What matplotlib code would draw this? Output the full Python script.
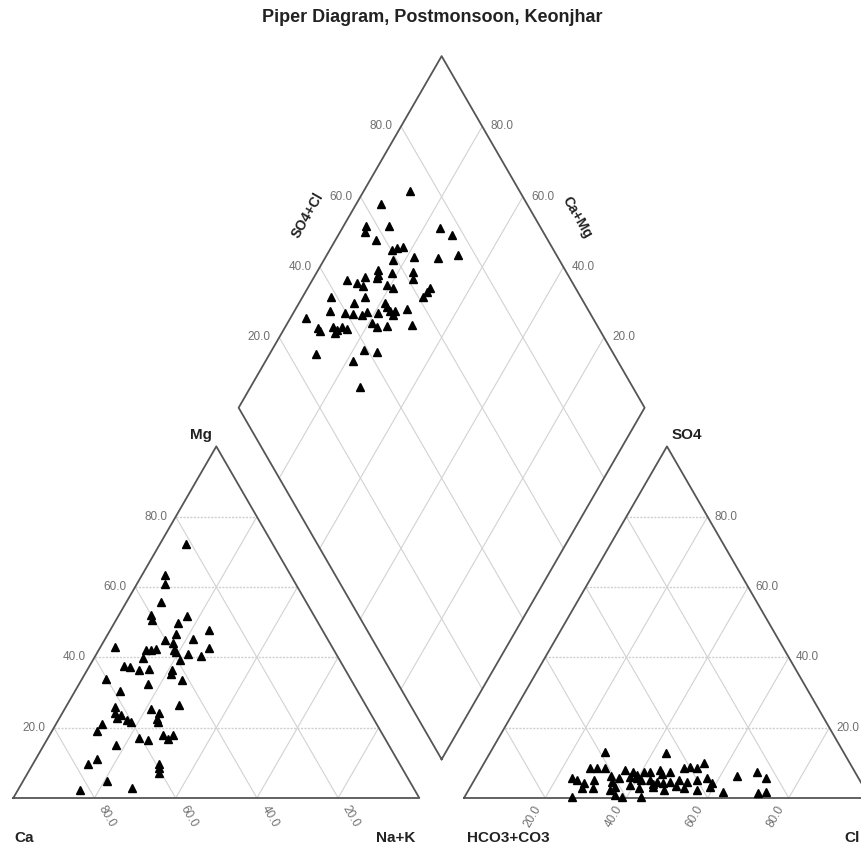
import numpy as np
import matplotlib.pyplot as plt

plt.rcParams['font.family'] = ['Liberation Sans', 'DejaVu Sans']

title = "Piper Diagram, Postmonsoon, Keonjhar"
ticks = [20, 40, 60, 80]

# cations (%) - left triangle
mg = [72.3, 63.3, 60.9, 55.7, 50.7, 52.0, 51.9, 49.7, 47.9, 46.7, 45.1, 45.0, 44.1, 42.9,
      42.8, 42.2, 42.0, 42.5, 42.2, 41.5, 41.0, 40.5, 39.3, 39.9, 37.5, 37.2, 36.3, 36.8,
      36.3, 35.2, 33.8, 33.7, 32.3, 30.4, 26.4, 25.9, 24.1, 22.7, 23.5, 25.2, 24.2, 22.6,
      21.6, 22.1, 21.6, 21.0, 19.1, 17.1, 16.5, 17.9, 16.7, 17.9, 15.0, 11.0, 9.8, 9.8,
      8.4, 7.2, 4.9, 2.8, 2.3]
nak = [6.5, 5.8, 6.9, 8.6, 8.7, 8.0, 16.8, 15.7, 24.2, 16.7, 21.6, 14.9, 17.3, 3.7,
       26.8, 11.7, 13.0, 13.8, 18.6, 19.3, 22.5, 26.1, 21.3, 11.9, 8.6, 10.1, 12.8, 15.0,
       20.9, 21.3, 6.0, 24.6, 17.1, 11.2, 27.6, 12.2, 12.9, 14.1, 14.8, 21.4, 23.9, 24.1,
       24.8, 16.9, 18.3, 11.4, 11.0, 22.5, 25.0, 27.8, 29.8, 30.4, 17.9, 15.2, 13.4, 31.0,
       31.7, 32.3, 20.6, 27.8, 15.3]

# anions (%) - right triangle
so4 = [13.1, 12.7, 8.4, 8.4, 8.4, 7.9, 7.5, 7.5, 7.5, 7.9, 7.5, 8.4, 8.9, 10.0, 8.4,
       5.6, 5.1, 4.2, 5.1, 4.6, 5.6, 6.0, 5.6, 5.1, 4.6, 4.2, 4.6, 5.1, 4.6, 5.1, 5.6,
       4.2, 6.2, 7.5, 5.6, 2.8, 2.8, 2.3, 3.2, 2.8, 2.3, 2.8, 2.3, 3.2, 1.8, 1.3, 1.8,
       0.4, 0.9, 0.2, 0.4, 6.5, 3.7, 4.0, 3.5, 6.8, 3.0, 5.0, 6.3]
cl = [28.1, 43.4, 26.9, 28.6, 30.6, 35.7, 38.0, 40.5, 42.1, 44.4, 47.0, 49.9, 51.3, 54.0,
      53.1, 23.8, 25.3, 27.4, 29.4, 34.2, 35.3, 38.0, 39.8, 43.3, 45.2, 47.0, 48.5, 50.3,
      52.6, 54.8, 57.0, 58.9, 64.1, 68.4, 71.7, 27.7, 30.5, 34.9, 35.7, 41.6, 48.0, 52.7,
      56.2, 59.0, 63.0, 71.8, 73.6, 26.4, 36.8, 43.4, 38.7, 39.3, 39.0, 44.5, 50.5, 45.5,
      45.0, 41.0, 33.0]

# diamond (%)
so4_cl = [73.0, 64.0, 57.3, 56.1, 63.0, 57.7, 75.1, 77.2, 75.6, 70.4, 64.7, 60.1, 61.6,
          63.4, 59.1, 54.0, 53.3, 52.5, 56.8, 62.2, 61.2, 44.9, 46.9, 49.7, 48.0, 53.9,
          55.1, 64.1, 62.8, 61.1, 38.5, 46.9, 43.3, 50.9, 50.8, 36.3, 39.7, 41.6, 43.5,
          45.1, 47.8, 51.0, 52.2, 51.3, 55.5, 29.4, 31.0, 31.0, 34.8, 35.3, 34.4, 36.9,
          37.8, 44.9, 45.5, 48.1, 54.5, 26.8, 39.2, 41.9, 34.7, 32.9]
ca_mg = [88.5, 93.8, 94.5, 93.8, 88.8, 90.1, 76.0, 72.0, 67.7, 72.3, 78.2, 84.7, 83.7,
         82.3, 82.9, 85.2, 84.5, 84.5, 81.4, 76.5, 75.5, 91.4, 88.7, 87.4, 86.6, 81.0,
         78.9, 69.9, 70.2, 70.4, 93.1, 84.6, 86.4, 78.8, 77.9, 91.2, 87.3, 85.1, 82.9,
         82.0, 79.0, 76.4, 75.2, 75.1, 72.5, 96.1, 91.7, 90.9, 88.1, 86.9, 86.9, 86.1,
         84.5, 79.3, 77.5, 75.2, 69.1, 88.6, 77.3, 73.9, 78.5, 73.1]

h = np.sqrt(3) / 2
g = 0.11
bx, by = 1 + g / 2, g * h


def cat_xy(m, n):
    m = np.asarray(m, float) / 100
    n = np.asarray(n, float) / 100
    return n + m / 2, m * h


def an_xy(s, c):
    s = np.asarray(s, float) / 100
    c = np.asarray(c, float) / 100
    return 1 + g + c + s / 2, s * h


def dia_xy(a, b):
    a = np.asarray(a, float) / 100
    b = np.asarray(b, float) / 100
    return bx + (a - b) / 2, by + (a + b) * h


def seg(f, p, q, **kw):
    x0, y0 = f(*p)
    x1, y1 = f(*q)
    ax.plot([x0, x1], [y0, y1], **kw)


fig = plt.figure(figsize=(8.61, 8.49), dpi=100)
ax = fig.add_axes([0, 0, 1, 1])
ax.axis('off')
px = 406.0
ax.set_xlim(-13.3 / px, (861 - 13.3) / px)
ax.set_ylim((798 - 849) / px, 798 / px)

edge = dict(color='#555555', lw=1.3, zorder=3)
grid = dict(color='#d2d2d2', lw=0.8, zorder=1)
hgrid = dict(color='#cfcfcf', lw=1.0, ls=(0, (1.5, 1)), zorder=1)
tk = dict(fontsize=8.5, color='#707070')
lab = dict(fontsize=11, fontweight='bold', color='#222222')

# grids
for t in ticks:
    seg(cat_xy, (t, 0), (t, 100 - t), **hgrid)
    seg(cat_xy, (0, t), (100 - t, t), **grid)
    seg(cat_xy, (0, 100 - t), (100 - t, 0), **grid)
    seg(an_xy, (t, 0), (t, 100 - t), **hgrid)
    seg(an_xy, (0, t), (100 - t, t), **grid)
    seg(an_xy, (0, 100 - t), (100 - t, 0), **grid)
    seg(dia_xy, (t, 0), (t, 100), **grid)
    seg(dia_xy, (0, t), (100, t), **grid)

# outlines
for f in (cat_xy, an_xy):
    x, y = f([0, 0, 100, 0], [0, 100, 0, 0])
    ax.plot(x, y, **edge)
x, y = dia_xy([0, 100, 100, 0, 0], [0, 0, 100, 100, 0])
ax.plot(x, y, **edge)

# tick labels
for t in ticks:
    s = f"{t:.1f}"
    ax.annotate(s, cat_xy(t, 0), xytext=(-6, 0), textcoords='offset points',
                ha='right', va='center', **tk)
    ax.annotate(s, cat_xy(0, 100 - t), xytext=(5, -6), textcoords='offset points',
                ha='left', va='center', rotation=-60, rotation_mode='anchor', **tk)
    ax.annotate(s, an_xy(0, t), xytext=(-5, -6), textcoords='offset points',
                ha='right', va='center', rotation=60, rotation_mode='anchor', **tk)
    ax.annotate(s, an_xy(t, 100 - t), xytext=(5, 0), textcoords='offset points',
                ha='left', va='center', annotation_clip=False, **tk)
    ax.annotate(s, dia_xy(t, 100), xytext=(-6, 0), textcoords='offset points',
                ha='right', va='center', **tk)
    ax.annotate(s, dia_xy(100, t), xytext=(6, 0), textcoords='offset points',
                ha='left', va='center', **tk)

# corner / axis names
ax.annotate("Mg", cat_xy(100, 0), xytext=(-3, 8), textcoords='offset points',
            ha='right', va='center', **lab)
ax.annotate("Ca", cat_xy(0, 0), xytext=(1, -29), textcoords='offset points',
            ha='left', va='center', **lab)
ax.annotate("Na+K", cat_xy(0, 100), xytext=(-3, -29), textcoords='offset points',
            ha='right', va='center', **lab)
ax.annotate("SO4", an_xy(100, 0), xytext=(3, 8), textcoords='offset points',
            ha='left', va='center', **lab)
ax.annotate("HCO3+CO3", an_xy(0, 0), xytext=(2, -29), textcoords='offset points',
            ha='left', va='center', **lab)
# right corner sits just past the figure edge, keep its name inside
fig.text(0.999, 1 - 838 / 849, "Cl", ha='right', va='center', **lab)
ax.annotate("SO4+Cl", dia_xy(54.6, 100), xytext=(-30, 0), textcoords='offset points',
            ha='center', va='center', rotation=60, fontsize=10, fontweight='bold',
            color='#222222')
ax.annotate("Ca+Mg", dia_xy(100, 54), xytext=(30, 0), textcoords='offset points',
            ha='center', va='center', rotation=-60, fontsize=10, fontweight='bold',
            color='#222222')

# samples
mk = dict(marker='^', ls='none', color='black', ms=6.2, zorder=4)
ax.plot(*cat_xy(mg, nak), **mk)
ax.plot(*an_xy(so4, cl), **mk)
ax.plot(*dia_xy(so4_cl, ca_mg), **mk)

fig.text(0.502, 1 - 18 / 849, title, ha='center', va='center',
         fontsize=13, fontweight='bold', color='#222222')

fig.savefig('out.png', dpi=100)
